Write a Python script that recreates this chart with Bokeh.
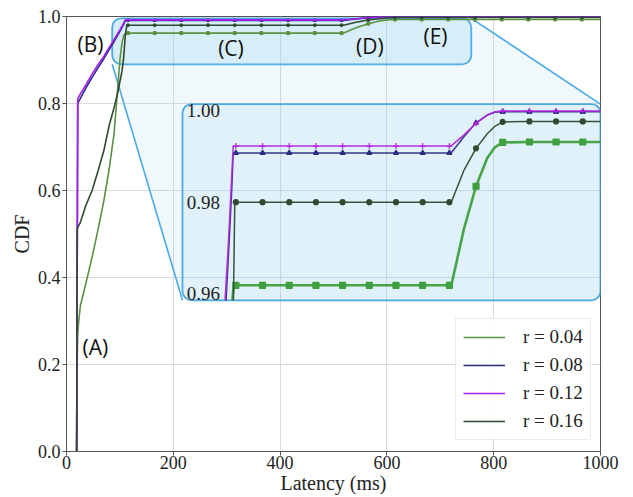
import numpy as np
from bokeh.plotting import figure
from bokeh.models import (Range1d, BoxAnnotation, Legend, LegendItem, FixedTicker,
                          PrintfTickFormatter)
from bokeh.core.properties import value
from bokeh.embed import file_html
from bokeh.resources import INLINE

# ---------------- data ----------------
LATENCY_MS = [19, 20, 21, 23, 26, 36, 48, 59, 70, 80, 89, 95, 100, 104, 107, 110, 113, 115,
              165, 215, 265, 315, 365, 415, 465, 515,
              519, 542, 565, 586, 600, 615,
              665, 715, 765, 815, 865, 915, 965, 1000]

CDF_R004 = [0.0, 0.20, 0.27, 0.30, 0.335, 0.385, 0.447, 0.51, 0.577, 0.65, 0.73, 0.82, 0.90, 0.94, 0.956, 0.9607, 0.9618, 0.9618,
            0.9618, 0.9618, 0.9618, 0.9618, 0.9618, 0.9618, 0.9618, 0.9618,
            0.9619, 0.9740, 0.9835, 0.9897, 0.9920, 0.9931,
            0.9932, 0.9932, 0.9932, 0.9932, 0.9932, 0.9932, 0.9932, 0.9932]

CDF_R008 = [0.0, 0.40, 0.80, 0.805, 0.812, 0.835, 0.860, 0.882, 0.903, 0.924, 0.942, 0.955, 0.966, 0.975, 0.982, 0.9908, 0.9908, 0.9908,
            0.9908, 0.9908, 0.9908, 0.9908, 0.9908, 0.9908, 0.9908, 0.9908,
            0.9909, 0.9943, 0.9974, 0.9991, 0.9997, 0.9998,
            0.9998, 0.9998, 0.9998, 0.9998, 0.9998, 0.9998, 0.9998, 0.9998]

CDF_R012 = [0.0, 0.40, 0.81, 0.815, 0.822, 0.842, 0.868, 0.889, 0.909, 0.929, 0.947, 0.959, 0.969, 0.978, 0.985, 0.9923, 0.9923, 0.9923,
            0.9923, 0.9923, 0.9923, 0.9923, 0.9923, 0.9923, 0.9923, 0.9923,
            0.9924, 0.9947, 0.9973, 0.9991, 0.9998, 1.0,
            1.0, 1.0, 1.0, 1.0, 1.0, 1.0, 1.0, 1.0]

CDF_R016 = [0.0, 0.51, 0.515, 0.52, 0.527, 0.565, 0.60, 0.645, 0.692, 0.75, 0.79, 0.82, 0.85, 0.875, 0.905, 0.955, 0.98, 0.98,
            0.98, 0.98, 0.98, 0.98, 0.98, 0.98, 0.98, 0.98,
            0.9801, 0.9869, 0.9918, 0.9950, 0.9966, 0.9976,
            0.9977, 0.9977, 0.9977, 0.9977, 0.9977, 0.9977, 0.9977, 0.9977]

SERIES_LABELS = ["r = 0.04", "r = 0.08", "r = 0.12", "r = 0.16"]
MARK_X = [115, 165, 215, 265, 315, 365, 415, 465, 515, 565, 615, 665, 715, 765, 815, 865, 915, 965]

X_TICKS = [0, 200, 400, 600, 800, 1000]
Y_TICKS = [0.0, 0.2, 0.4, 0.6, 0.8, 1.0]
INSET_TICKS = [1.00, 0.98, 0.96]
INSET_TICK_LABELS = ["1.00", "0.98", "0.96"]

ANNOT_TEXT = ["(A)", "(B)", "(C)", "(D)", "(E)"]
ANNOT_X = [54, 45, 308, 568, 691]
ANNOT_Y = [0.240, 0.937, 0.927, 0.933, 0.956]

# ---------------- layout / style ----------------
X_RANGE = (0, 1000)
Y_RANGE = (0, 1)
ZOOM_BOX = dict(left=85.6, right=758, bottom=0.890, top=0.9958)     # main coords
INSET_BOX = dict(left=217.2, right=1000, bottom=0.3475, top=0.7986)  # main coords
INSET_X = (15, 798.2)       # inset data domain
INSET_Y = (0.9585, 1.0015)

MAIN_COLORS = ["#5b9141", "#2e2e80", "#a31ff0", "#2f4a30"]
INSET_COLORS = ["#3f9f3f", "#2e2e80", "#b424e0", "#2f4a30"]
INSET_WIDTHS = [2.6, 1.5, 1.5, 1.5]
MARKERS = ["square", "triangle", "cross", "circle"]
INSET_MSIZE = [6, 5, 6, 5]
BLUE = "#4aaae6"
FILL = "#8ccbea"
SERIF = "Liberation Serif"

series = [CDF_R004, CDF_R008, CDF_R012, CDF_R016]

p = figure(frame_width=534, frame_height=435, x_range=X_RANGE, y_range=Y_RANGE,
           output_backend="svg", toolbar_location=None,
           min_border_left=66, min_border_right=33, min_border_top=16, min_border_bottom=46)

# extra ranges that map the inset domain onto the inset box
bw = INSET_BOX["right"] - INSET_BOX["left"]
bh = INSET_BOX["top"] - INSET_BOX["bottom"]
rx = (INSET_X[1] - INSET_X[0]) / bw
ry = (INSET_Y[1] - INSET_Y[0]) / bh
ix_start = INSET_X[0] - (INSET_BOX["left"] - X_RANGE[0]) * rx
ix_end = INSET_X[1] + (X_RANGE[1] - INSET_BOX["right"]) * rx
iy_start = INSET_Y[0] - (INSET_BOX["bottom"] - Y_RANGE[0]) * ry
iy_end = INSET_Y[1] + (Y_RANGE[1] - INSET_BOX["top"]) * ry
p.extra_x_ranges = {"ix": Range1d(ix_start, ix_end)}
p.extra_y_ranges = {"iy": Range1d(iy_start, iy_end)}

# axes / grid styling
p.outline_line_color = "#555555"
p.outline_line_width = 1
p.axis.axis_line_color = "#555555"
p.axis.major_tick_line_color = "#555555"
p.axis.major_tick_out = 4
p.axis.major_tick_in = 0
p.axis.minor_tick_line_color = None
p.axis.major_label_text_font = SERIF
p.axis.major_label_text_font_size = "18px"
p.axis.major_label_text_color = "#222222"
p.yaxis.major_label_standoff = 2
p.xaxis.major_label_standoff = 0
p.xaxis.ticker = FixedTicker(ticks=X_TICKS)
p.yaxis.ticker = FixedTicker(ticks=Y_TICKS)
p.yaxis.formatter = PrintfTickFormatter(format="%.1f")
p.xaxis.axis_label = "Latency (ms)"
p.yaxis.axis_label = "CDF"
p.axis.axis_label_text_font = SERIF
p.axis.axis_label_text_font_size = "20px"
p.axis.axis_label_text_font_style = "normal"
p.axis.axis_label_text_color = "#222222"
p.xaxis.axis_label_standoff = 0
p.yaxis.axis_label_standoff = 2
p.grid.grid_line_color = "#dadada"
p.grid.grid_line_width = 1

# connecting shaded region and connector lines
zb, ib = ZOOM_BOX, INSET_BOX
p.patch(x=[zb["left"], zb["right"], zb["right"], ib["right"], ib["left"], ib["left"]],
        y=[zb["bottom"], zb["bottom"], zb["top"], ib["top"], ib["top"], ib["bottom"]],
        fill_color=FILL, fill_alpha=0.13, line_color=None)
p.segment(x0=[zb["left"], zb["right"]], y0=[zb["bottom"], zb["top"]],
          x1=[ib["left"], ib["right"]], y1=[ib["bottom"], ib["top"]],
          line_color=BLUE, line_width=1.6)

for b, alpha in ((ZOOM_BOX, 0.35), (INSET_BOX, 0.27)):
    p.add_layout(BoxAnnotation(left=b["left"], right=b["right"], bottom=b["bottom"], top=b["top"],
                               fill_color=FILL, fill_alpha=alpha, line_color=BLUE, line_width=1.8,
                               line_alpha=1.0, border_radius=9, level="underlay"))

# main curves
legend_items = []
for ys, lab, col, mk in zip(series, SERIES_LABELS, MAIN_COLORS, MARKERS):
    lr = p.line(LATENCY_MS, ys, line_color=col, line_width=1.6)
    mx = [x for x in LATENCY_MS if x in MARK_X]
    my = [y for x, y in zip(LATENCY_MS, ys) if x in MARK_X]
    p.scatter(mx, my, marker=mk, size=3, fill_color=col, line_color=col)
    legend_items.append(LegendItem(label=lab, renderers=[lr]))


def clip_to_inset(xs, ys):
    xs = np.asarray(xs, float)
    ys = np.asarray(ys, float)
    k = int(np.argmax(ys >= INSET_Y[0]))
    if k > 0:
        cx = float(np.interp(INSET_Y[0], ys[k - 1:k + 1], xs[k - 1:k + 1]))
        xs2 = np.concatenate([[cx], xs[k:]])
        ys2 = np.concatenate([[INSET_Y[0]], ys[k:]])
    else:
        xs2, ys2 = xs, ys
    keep = xs2 <= INSET_X[1]
    xe = INSET_X[1]
    ye = float(np.interp(xe, xs2, ys2))
    return list(xs2[keep]) + [xe], list(ys2[keep]) + [ye]


# inset curves
for ys, col, w, mk, ms in zip(series, INSET_COLORS, INSET_WIDTHS, MARKERS, INSET_MSIZE):
    cx, cy = clip_to_inset(LATENCY_MS, ys)
    p.line(cx, cy, line_color=col, line_width=w, line_alpha=0.95,
           x_range_name="ix", y_range_name="iy")
    mx = [x for x, y in zip(LATENCY_MS, ys) if x in MARK_X and x <= INSET_X[1] and y >= INSET_Y[0]]
    my = [y for x, y in zip(LATENCY_MS, ys) if x in MARK_X and x <= INSET_X[1] and y >= INSET_Y[0]]
    p.scatter(mx, my, marker=mk, size=ms, fill_color=col, line_color=col, line_width=1.2,
              x_range_name="ix", y_range_name="iy")

# inset tick labels
p.text(x=[INSET_X[0] + 8] * len(INSET_TICKS), y=INSET_TICKS, text=INSET_TICK_LABELS,
       text_font=value(SERIF), text_font_size="19px", text_color="#222222",
       text_align="left", text_baseline="middle", x_range_name="ix", y_range_name="iy")

# region annotations
p.text(x=ANNOT_X, y=ANNOT_Y, text=ANNOT_TEXT, text_font=value("Open Sans"),
       text_font_size="21px", text_color="#111111", text_align="center", text_baseline="middle")

legend = Legend(items=legend_items, location=(389, 11))
legend.glyph_width = 42
legend.glyph_height = 20
legend.spacing = 6
legend.padding = 7
legend.margin = 0
legend.label_standoff = 18
legend.label_text_font = SERIF
legend.label_text_font_size = "19px"
legend.label_text_color = "#222222"
legend.border_line_color = "#d8d8d8"
legend.background_fill_alpha = 0.85
p.add_layout(legend)

open("out.html", "w").write(file_html(p, INLINE))
